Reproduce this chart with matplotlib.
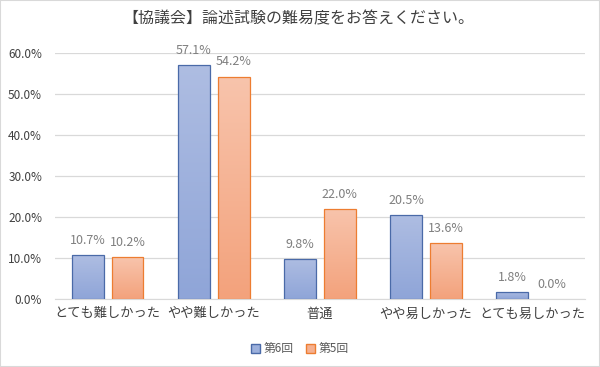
import numpy as np
import matplotlib
matplotlib.use('Agg')
import matplotlib.pyplot as plt
from matplotlib.ticker import FuncFormatter
from matplotlib.colors import LinearSegmentedColormap
from matplotlib.patches import Patch

plt.rcParams['font.family'] = ['Noto Sans CJK JP', 'DejaVu Sans']

# データ
categories = ['とても難しかった', 'やや難しかった', '普通', 'やや易しかった', 'とても易しかった']
series_names = ['第6回', '第5回']
values_6 = [0.107, 0.571, 0.098, 0.205, 0.018]
values_5 = [0.102, 0.542, 0.220, 0.136, 0.000]

fig = plt.figure(figsize=(6, 3.67), dpi=100)
ax = fig.add_axes([0.091, 0.185, 0.884, 0.671])

x = np.arange(len(categories))
w = 0.30
gap = 0.075
styles = [
    (values_6, x - (w + gap) / 2, '#4a6aa8', ['#8fa5d8', '#aebde2']),
    (values_5, x + (w + gap) / 2, '#ed7d31', ['#f3a27c', '#f8c4ac']),
]

grad = np.linspace(0, 1, 100).reshape(-1, 1)
for vals, pos, edge, cols in styles:
    cmap = LinearSegmentedColormap.from_list('g', cols)
    bars = ax.bar(pos, vals, width=w, color=cols[0], edgecolor=edge, linewidth=0.9, zorder=3)
    for b, v in zip(bars, vals):
        if v <= 0:
            b.set_visible(False)
        else:
            b.set_facecolor('none')
            im = ax.imshow(grad, cmap=cmap, origin='lower', aspect='auto',
                           extent=[b.get_x(), b.get_x() + w, 0, v], zorder=2)
            im.set_clip_path(b)
        ax.text(b.get_x() + w / 2, v + 0.02, f'{v*100:.1f}%', ha='center', va='bottom',
                fontsize=9, color='#7f7f7f', zorder=4)

ax.set_xlim(-0.5, len(categories) - 0.5)
ax.set_ylim(0, 0.6)
ax.set_yticks(np.arange(0, 0.61, 0.1))
ax.yaxis.set_major_formatter(FuncFormatter(lambda v, p: f'{v*100:.1f}%'))
ax.set_xticks(x)
ax.set_xticklabels(categories, fontsize=9.5, color='#404040')
ax.tick_params(axis='y', labelsize=8.5, labelcolor='#404040', length=0, pad=9)
ax.tick_params(axis='x', length=0, pad=6)
ax.grid(axis='y', color='#d9d9d9', linewidth=0.9, zorder=0)
for s in ['top', 'right', 'left']:
    ax.spines[s].set_visible(False)
ax.spines['bottom'].set_color('#d9d9d9')

fig.suptitle('【協議会】論述試験の難易度をお答えください。', fontsize=11.5, color='#404040',
             x=0.497, y=0.948, va='center')

handles = [Patch(facecolor='#9cb0dc', edgecolor='#4a6aa8'),
           Patch(facecolor='#f5b090', edgecolor='#ed7d31')]
fig.legend(handles, series_names, loc='center', bbox_to_anchor=(0.5, 0.05), ncol=2,
           frameon=False, fontsize=8.5, handlelength=0.8, handleheight=0.8,
           handletextpad=0.3, columnspacing=1.0, labelcolor='#595959')

fig.patches.append(plt.Rectangle((0, 0), 1, 1, transform=fig.transFigure, fill=False,
                                 edgecolor='#d9d9d9', linewidth=1.5))

fig.savefig('out.png', dpi=100)
